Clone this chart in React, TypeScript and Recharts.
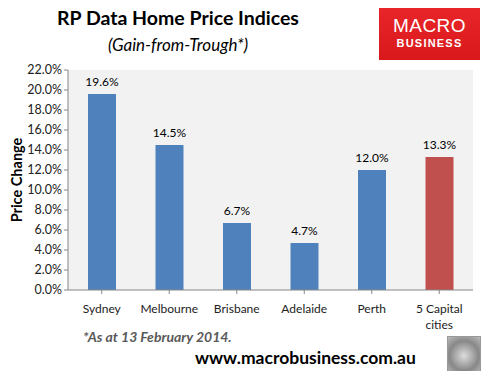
import { BarChart, Bar, XAxis, YAxis, CartesianGrid, LabelList, Cell } from 'recharts'

const CITIES = ['Sydney', 'Melbourne', 'Brisbane', 'Adelaide', 'Perth', '5 Capital cities']
const GAINS = [19.6, 14.5, 6.7, 4.7, 12.0, 13.3]
const BAR_COLORS = ['#4F81BD', '#4F81BD', '#4F81BD', '#4F81BD', '#4F81BD', '#C0504D']
const Y_TICKS = [0, 2, 4, 6, 8, 10, 12, 14, 16, 18, 20, 22]

const data = CITIES.map((city, i) => ({ city, gain: GAINS[i] }))

const FONT = 'Lato, "Open Sans", sans-serif'

function CityTick({ x, y, payload }: any) {
  const words: string[] = payload.value === '5 Capital cities' ? ['5 Capital', 'cities'] : [payload.value]
  return (
    <text x={x} y={y + 17} textAnchor="middle" fontSize={12} fill="#222" fontFamily={FONT}>
      {words.map((w, i) => (
        <tspan key={w} x={x} dy={i === 0 ? 0 : 16}>{w}</tspan>
      ))}
    </text>
  )
}

export default function App() {
  return (
    <div style={{ position: 'relative', width: 489, height: 379, background: '#fff', margin: -8, fontFamily: FONT }}>
      <div style={{ position: 'absolute', left: 0, width: 356, top: 6, textAlign: 'center', fontSize: 19.5, fontWeight: 700, color: '#000' }}>
        RP Data Home Price Indices
      </div>
      <div style={{ position: 'absolute', left: 0, width: 356, top: 34, textAlign: 'center', fontSize: 17, fontStyle: 'italic', color: '#000' }}>
        (Gain-from-Trough*)
      </div>
      <div style={{ position: 'absolute', left: 379, top: 8, width: 101, height: 52, background: 'linear-gradient(#e8262a, #d9181c)', color: '#fff', textAlign: 'center', fontFamily: '"Liberation Sans", sans-serif' }}>
        <div style={{ fontSize: 19, marginTop: 8, lineHeight: '20px', letterSpacing: 0.5 }}>MACRO</div>
        <div style={{ fontSize: 11, lineHeight: '14px', letterSpacing: 1.2, fontWeight: 700 }}>BUSINESS</div>
      </div>
      <div style={{ position: 'absolute', left: 16, top: 180, width: 0, height: 0 }}>
        <div style={{ position: 'absolute', transform: 'translate(-50%, -50%) rotate(-90deg)', whiteSpace: 'nowrap', fontSize: 14.5, fontWeight: 700, color: '#000' }}>
          Price Change
        </div>
      </div>
      <BarChart
        width={489}
        height={379}
        data={data}
        margin={{ top: 70, right: 16, bottom: 59, left: 0 }}
        barSize={28}
        style={{ position: 'absolute', left: 0, top: 0 }}
      >
        <CartesianGrid fill="#F2F2F2" horizontal={false} vertical={false} />
        <XAxis
          dataKey="city"
          height={30}
          stroke="#868686"
          tickLine={{ stroke: '#868686' }}
          tickSize={4}
          tick={<CityTick />}
          interval={0}
        />
        <YAxis
          width={68}
          domain={[0, 22]}
          ticks={Y_TICKS}
          interval={0}
          tickFormatter={(v: number) => `${v.toFixed(1)}%`}
          stroke="#868686"
          tickSize={4}
          tick={{ fontSize: 12.5, fill: '#222', fontFamily: FONT }}
        />
        <Bar dataKey="gain" isAnimationActive={false}>
          {data.map((d, i) => (
            <Cell key={d.city} fill={BAR_COLORS[i]} />
          ))}
          <LabelList dataKey="gain" position="top" offset={8} formatter={(v: any) => `${Number(v).toFixed(1)}%`} style={{ fontSize: 12, fill: '#000', fontFamily: FONT }} />
        </Bar>
      </BarChart>
      <div style={{ position: 'absolute', left: 83, top: 328, fontSize: 14, fontWeight: 700, fontStyle: 'italic', color: '#595959' }}>
        *As at 13 February 2014.
      </div>
      <div style={{ position: 'absolute', left: 195, top: 347, fontSize: 17.5, fontWeight: 700, color: '#000' }}>
        www.macrobusiness.com.au
      </div>
      <div style={{ position: 'absolute', left: 447, top: 336, width: 32, height: 34, border: '1px solid #999', background: 'radial-gradient(circle at 50% 55%, #ddd, #888 60%, #bbb)' }} />
    </div>
  )
}
